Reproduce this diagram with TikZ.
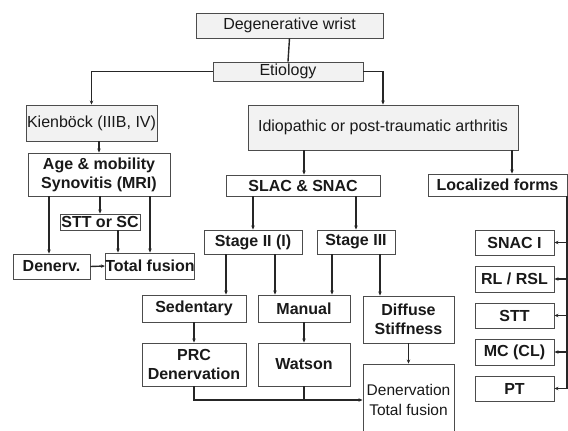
\documentclass[tikz,border=0pt]{standalone}
\usepackage{fontspec}
\setmainfont{Liberation Sans}
\usetikzlibrary{arrows.meta,shadows}
\tikzset{
  base/.style={draw=black!70, line width=0.9pt, rectangle, inner sep=0pt, align=center, text=black!90},
  gbox/.style={base, fill=black!5, font=\fontsize{16}{19}\selectfont, drop shadow={shadow xshift=1.2pt, shadow yshift=-1.2pt, opacity=0.35, fill=black!50}},
  wbox/.style={base, fill=white, font=\fontsize{16}{19}\selectfont\bfseries},
  rbox/.style={base, fill=white, font=\fontsize{15.5}{20}\selectfont},
  con/.style={draw=black!85, line width=1.4pt},
  arr/.style={con, -{Stealth[length=4pt,width=3.5pt]}},
}
\begin{document}
\begin{tikzpicture}[x=1pt,y=-1pt]
\useasboundingbox (0,0) rectangle (568,431);
\clip (0,0) rectangle (568,431);
% top level
\node[gbox, minimum width=187pt, minimum height=25pt] (dw) at (289.5,25.5) {Degenerative wrist};
\node[gbox, minimum width=150pt, minimum height=19pt] (et) at (288,71.5) {Etiology};
\node[gbox, minimum width=131pt, minimum height=36pt] (kb) at (91.5,123) {Kienböck (IIIB, IV)};
\node[gbox, minimum width=270pt, minimum height=45pt] (id) at (383,127.5) {Idiopathic or post-traumatic arthritis};
% left branch
\node[wbox, minimum width=142pt, minimum height=43pt] (age) at (99,174.5) {Age \& mobility\\Synovitis (MRI)};
\node[wbox, minimum width=80pt, minimum height=16pt] (stt) at (100,222) {STT or SC};
\node[wbox, minimum width=77pt, minimum height=25pt] (den) at (51.5,266.5) {Denerv.};
\node[wbox, minimum width=88pt, minimum height=26pt] (tf) at (150,266) {Total fusion};
% middle branch
\node[wbox, minimum width=154pt, minimum height=21pt] (slac) at (303,185.5) {SLAC \& SNAC};
\node[wbox, minimum width=98pt, minimum height=24pt] (s2) at (253,242) {Stage II (I)};
\node[wbox, minimum width=78pt, minimum height=24pt] (s3) at (356,242) {Stage III};
\node[wbox, minimum width=104pt, minimum height=27pt] (sed) at (194,308.5) {Sedentary};
\node[wbox, minimum width=92pt, minimum height=27pt] (man) at (304,308.5) {Manual};
\node[wbox, minimum width=104pt, minimum height=43pt] (prc) at (194,364.5) {PRC\\Denervation};
\node[wbox, minimum width=92pt, minimum height=43pt] (wat) at (304,364.5) {Watson};
\node[wbox, minimum width=91pt, minimum height=47pt] (dif) at (408.5,319.5) {Diffuse\\Stiffness};
\node[rbox, minimum width=91pt, minimum height=72pt] (dtf) at (408.5,400) {Denervation\\Total fusion};
% right branch
\node[wbox, minimum width=139pt, minimum height=22pt] (lf) at (497.5,185) {Localized forms};
\node[wbox, minimum width=79pt, minimum height=25pt] (snac) at (514.5,242.5) {SNAC I};
\node[wbox, minimum width=79pt, minimum height=26pt] (rl) at (514.5,279) {RL / RSL};
\node[wbox, minimum width=79pt, minimum height=25pt] (sttr) at (514.5,315.5) {STT};
\node[wbox, minimum width=79pt, minimum height=26pt] (mc) at (514.5,352) {MC (CL)};
\node[wbox, minimum width=79pt, minimum height=25pt] (pt) at (514.5,388.5) {PT};
% connectors
\draw[con] (dw.south) -- (et.north);
\draw[arr] (et.west) -| (kb.north);
\draw[arr] (et.east) -| (id.north);
\draw[arr] (kb.south -| age.north) -- (age.north);
\draw[arr] (age.south -| stt.north) -- (stt.north);
\draw[arr] (age.south -| 49,0) -- (den.north -| 49,0);
\draw[arr] (age.south -| 150,0) -- (tf.north -| 150,0);
\draw[arr] (stt.south -| 118,0) -- (tf.north -| 118,0);
\draw[arr] (den.east) -- (tf.west);
\draw[arr] (id.south -| 304,0) -- (slac.north -| 304,0);
\draw[arr] (id.south -| 512,0) -- (lf.north -| 512,0);
\draw[arr] (slac.south -| s2.north) -- (s2.north);
\draw[arr] (slac.south -| s3.north) -- (s3.north);
\draw[arr] (s2.south -| 226,0) -- (sed.north -| 226,0);
\draw[arr] (s2.south -| 275,0) -- (man.north -| 275,0);
\draw[arr] (s3.south -| 332,0) -- (man.north -| 332,0);
\draw[arr] (s3.south -| 380,0) -- (dif.north -| 380,0);
\draw[arr] (sed.south) -- (prc.north);
\draw[arr] (man.south) -- (wat.north);
\draw[arr] (dif.south) -- (dtf.north);
\draw[arr] (prc.south) |- (dtf.west);
\draw[con] (wat.south) -- (wat.south |- dtf.west);
\draw[con] ([xshift=-0.5pt]lf.south east) -- ([xshift=-0.5pt]lf.south east |- pt.east);
\draw[arr] ([xshift=-0.5pt]lf.south east |- snac.east) -- (snac.east);
\draw[arr] ([xshift=-0.5pt]lf.south east |- rl.east) -- (rl.east);
\draw[arr] ([xshift=-0.5pt]lf.south east |- sttr.east) -- (sttr.east);
\draw[arr] ([xshift=-0.5pt]lf.south east |- mc.east) -- (mc.east);
\draw[arr] ([xshift=-0.5pt]lf.south east |- pt.east) -- (pt.east);
\end{tikzpicture}
\end{document}
